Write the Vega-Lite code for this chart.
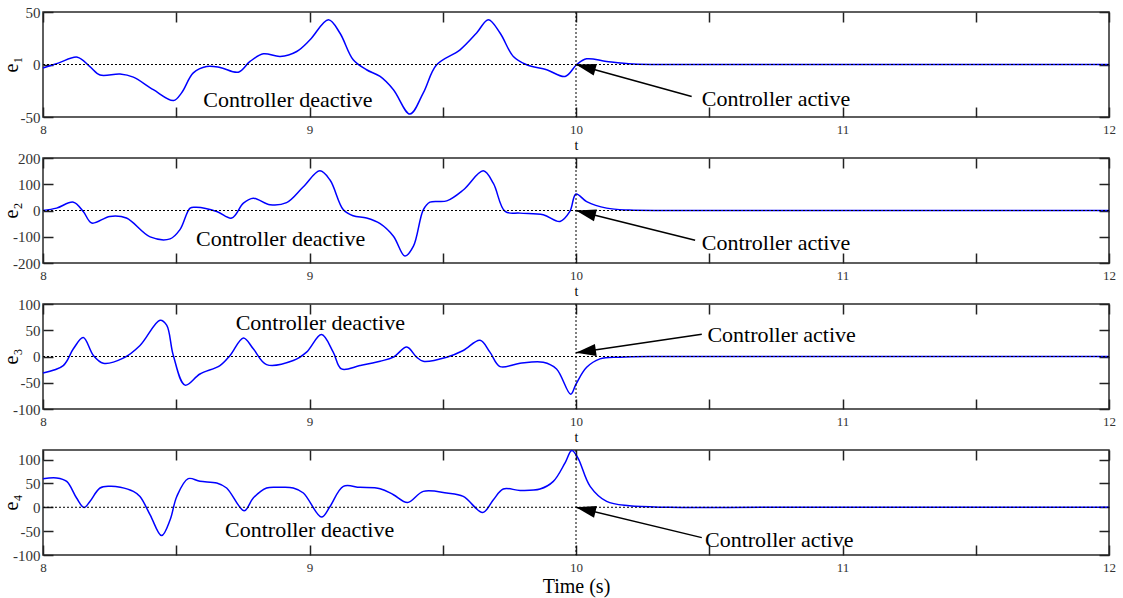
{
  "$schema": "https://vega.github.io/schema/vega-lite/v6.json",
  "padding": {"left": 0, "top": 4, "right": 5, "bottom": 5},
  "background": "white",
  "datasets": {
    "curves": [
      {"s":"e1","t":8.0,"v":-3.4},{"s":"e1","t":8.057,"v":1.3},{"s":"e1","t":8.129,"v":7},{"s":"e1","t":8.176,"v":-2},{"s":"e1","t":8.214,"v":-10},{"s":"e1","t":8.289,"v":-9},{"s":"e1","t":8.339,"v":-12},{"s":"e1","t":8.414,"v":-24},{"s":"e1","t":8.49,"v":-34.3},{"s":"e1","t":8.52,"v":-27},{"s":"e1","t":8.564,"v":-8},{"s":"e1","t":8.614,"v":-1.9},{"s":"e1","t":8.664,"v":-2.8},{"s":"e1","t":8.733,"v":-7.3},{"s":"e1","t":8.777,"v":2.9},{"s":"e1","t":8.827,"v":10.2},{"s":"e1","t":8.89,"v":7.6},{"s":"e1","t":8.952,"v":12.4},{"s":"e1","t":9.002,"v":23.5},{"s":"e1","t":9.071,"v":42.6},{"s":"e1","t":9.114,"v":30},{"s":"e1","t":9.164,"v":4.5},{"s":"e1","t":9.214,"v":-5},{"s":"e1","t":9.265,"v":-11.4},{"s":"e1","t":9.315,"v":-24},{"s":"e1","t":9.377,"v":-47.2},{"s":"e1","t":9.427,"v":-27},{"s":"e1","t":9.477,"v":-0.3},{"s":"e1","t":9.565,"v":14},{"s":"e1","t":9.627,"v":30},{"s":"e1","t":9.671,"v":42.6},{"s":"e1","t":9.715,"v":30},{"s":"e1","t":9.765,"v":7.6},{"s":"e1","t":9.815,"v":-0.3},{"s":"e1","t":9.89,"v":-5},{"s":"e1","t":9.959,"v":-11.4},{"s":"e1","t":10.003,"v":0},{"s":"e1","t":10.04,"v":5.4},{"s":"e1","t":10.115,"v":2.9},{"s":"e1","t":10.214,"v":0.4},{"s":"e1","t":10.4,"v":0},{"s":"e1","t":10.7,"v":0},{"s":"e1","t":11.2,"v":0},{"s":"e1","t":12,"v":0},
      {"s":"e2","t":8.0,"v":0},{"s":"e2","t":8.051,"v":9},{"s":"e2","t":8.114,"v":31.7},{"s":"e2","t":8.151,"v":-3.6},{"s":"e2","t":8.183,"v":-47.7},{"s":"e2","t":8.251,"v":-22.6},{"s":"e2","t":8.313,"v":-28.8},{"s":"e2","t":8.402,"v":-100.5},{"s":"e2","t":8.477,"v":-108},{"s":"e2","t":8.514,"v":-72.8},{"s":"e2","t":8.552,"v":9},{"s":"e2","t":8.575,"v":12},{"s":"e2","t":8.652,"v":-3.6},{"s":"e2","t":8.708,"v":-28.8},{"s":"e2","t":8.752,"v":28},{"s":"e2","t":8.789,"v":46.8},{"s":"e2","t":8.852,"v":22},{"s":"e2","t":8.914,"v":30},{"s":"e2","t":8.977,"v":90.6},{"s":"e2","t":9.039,"v":151},{"s":"e2","t":9.077,"v":116},{"s":"e2","t":9.127,"v":2.6},{"s":"e2","t":9.164,"v":-20},{"s":"e2","t":9.214,"v":-28.8},{"s":"e2","t":9.265,"v":-50},{"s":"e2","t":9.315,"v":-98},{"s":"e2","t":9.358,"v":-173.6},{"s":"e2","t":9.39,"v":-135.8},{"s":"e2","t":9.427,"v":2.6},{"s":"e2","t":9.452,"v":31.7},{"s":"e2","t":9.515,"v":36.6},{"s":"e2","t":9.577,"v":78},{"s":"e2","t":9.652,"v":151},{"s":"e2","t":9.69,"v":103},{"s":"e2","t":9.734,"v":-3.6},{"s":"e2","t":9.79,"v":-10},{"s":"e2","t":9.877,"v":-16},{"s":"e2","t":9.94,"v":-41.5},{"s":"e2","t":9.977,"v":-3.6},{"s":"e2","t":10.0,"v":63},{"s":"e2","t":10.04,"v":34},{"s":"e2","t":10.115,"v":9},{"s":"e2","t":10.2,"v":1.5},{"s":"e2","t":10.35,"v":0},{"s":"e2","t":10.7,"v":0},{"s":"e2","t":11.2,"v":0},{"s":"e2","t":12,"v":0},
      {"s":"e3","t":8.0,"v":-31.4},{"s":"e3","t":8.076,"v":-17.3},{"s":"e3","t":8.114,"v":14.7},{"s":"e3","t":8.151,"v":36},{"s":"e3","t":8.189,"v":2},{"s":"e3","t":8.226,"v":-12.8},{"s":"e3","t":8.301,"v":-3.2},{"s":"e3","t":8.364,"v":21},{"s":"e3","t":8.439,"v":69},{"s":"e3","t":8.464,"v":59.6},{"s":"e3","t":8.489,"v":2},{"s":"e3","t":8.533,"v":-54.5},{"s":"e3","t":8.589,"v":-33.3},{"s":"e3","t":8.664,"v":-17.3},{"s":"e3","t":8.702,"v":2},{"s":"e3","t":8.752,"v":35.3},{"s":"e3","t":8.789,"v":14.7},{"s":"e3","t":8.839,"v":-15.4},{"s":"e3","t":8.939,"v":-7.7},{"s":"e3","t":8.989,"v":8.3},{"s":"e3","t":9.045,"v":41.7},{"s":"e3","t":9.089,"v":8.3},{"s":"e3","t":9.12,"v":-23.7},{"s":"e3","t":9.189,"v":-17.3},{"s":"e3","t":9.265,"v":-9},{"s":"e3","t":9.315,"v":-1.3},{"s":"e3","t":9.365,"v":18},{"s":"e3","t":9.402,"v":-1.3},{"s":"e3","t":9.427,"v":-9},{"s":"e3","t":9.515,"v":-1.3},{"s":"e3","t":9.577,"v":11.5},{"s":"e3","t":9.64,"v":30.8},{"s":"e3","t":9.677,"v":8.3},{"s":"e3","t":9.715,"v":-19.2},{"s":"e3","t":9.79,"v":-12.8},{"s":"e3","t":9.877,"v":-10.9},{"s":"e3","t":9.927,"v":-23.7},{"s":"e3","t":9.98,"v":-71.8},{"s":"e3","t":10.0,"v":-52.5},{"s":"e3","t":10.04,"v":-20.6},{"s":"e3","t":10.09,"v":-4.5},{"s":"e3","t":10.165,"v":-1.3},{"s":"e3","t":10.3,"v":0},{"s":"e3","t":10.7,"v":0},{"s":"e3","t":11.2,"v":0},{"s":"e3","t":12,"v":0},
      {"s":"e4","t":8.0,"v":60},{"s":"e4","t":8.051,"v":61.5},{"s":"e4","t":8.089,"v":54.3},{"s":"e4","t":8.126,"v":19.4},{"s":"e4","t":8.154,"v":-0.4},{"s":"e4","t":8.176,"v":12.2},{"s":"e4","t":8.214,"v":40.4},{"s":"e4","t":8.25,"v":44},{"s":"e4","t":8.29,"v":42},{"s":"e4","t":8.339,"v":33.3},{"s":"e4","t":8.364,"v":22.7},{"s":"e4","t":8.402,"v":-15.8},{"s":"e4","t":8.445,"v":-59.4},{"s":"e4","t":8.477,"v":-26.3},{"s":"e4","t":8.502,"v":22.7},{"s":"e4","t":8.545,"v":60},{"s":"e4","t":8.589,"v":54.3},{"s":"e4","t":8.652,"v":50.9},{"s":"e4","t":8.689,"v":40.4},{"s":"e4","t":8.755,"v":-7.4},{"s":"e4","t":8.789,"v":19.4},{"s":"e4","t":8.839,"v":40.4},{"s":"e4","t":8.89,"v":41.7},{"s":"e4","t":8.939,"v":40.4},{"s":"e4","t":8.977,"v":29.9},{"s":"e4","t":9.045,"v":-20.6},{"s":"e4","t":9.077,"v":1.7},{"s":"e4","t":9.127,"v":43.8},{"s":"e4","t":9.189,"v":41.7},{"s":"e4","t":9.265,"v":39},{"s":"e4","t":9.315,"v":26.3},{"s":"e4","t":9.368,"v":10.1},{"s":"e4","t":9.427,"v":33.3},{"s":"e4","t":9.515,"v":29.9},{"s":"e4","t":9.577,"v":22.7},{"s":"e4","t":9.65,"v":-10.9},{"s":"e4","t":9.69,"v":15.8},{"s":"e4","t":9.727,"v":38.3},{"s":"e4","t":9.79,"v":35.4},{"s":"e4","t":9.865,"v":38.3},{"s":"e4","t":9.915,"v":54.3},{"s":"e4","t":9.959,"v":93},{"s":"e4","t":9.984,"v":119},{"s":"e4","t":10.007,"v":103.6},{"s":"e4","t":10.053,"v":43.8},{"s":"e4","t":10.115,"v":12.2},{"s":"e4","t":10.2,"v":3},{"s":"e4","t":10.35,"v":0},{"s":"e4","t":10.7,"v":0},{"s":"e4","t":11.2,"v":0},{"s":"e4","t":12,"v":0}
    ],
    "notes": [
      {"s":"e1","label":"Controller deactive","t":8.6015,"v":-40.6},
      {"s":"e1","label":"Controller active","t":10.4717,"v":-39.3},
      {"s":"e2","label":"Controller deactive","t":8.574,"v":-135.8},
      {"s":"e2","label":"Controller active","t":10.4717,"v":-151},
      {"s":"e3","label":"Controller deactive","t":8.723,"v":50},
      {"s":"e3","label":"Controller active","t":10.493,"v":27.5},
      {"s":"e4","label":"Controller deactive","t":8.683,"v":-61.5},
      {"s":"e4","label":"Controller active","t":10.484,"v":-82.5}
    ],
    "arrows": [
      {"s":"e1","t0":10.434,"v0":-30.5,"t1":10.0,"v1":0},
      {"s":"e2","t0":10.447,"v0":-113,"t1":10.0,"v1":0},
      {"s":"e3","t0":10.472,"v0":42.3,"t1":10.0,"v1":7},
      {"s":"e4","t0":10.472,"v0":-63.6,"t1":10.0,"v1":0}
    ]
  },
  "vconcat": [
    {
      "width": 1066, "height": 105,
      "layer": [
        {"data": {"name": "curves"}, "transform": [{"filter": "datum.s === 'e1'"}],
         "mark": {"type": "line", "color": "#0000ff", "strokeWidth": 1.5, "interpolate": "catmull-rom"},
         "encoding": {
           "x": {"field": "t", "type": "quantitative", "scale": {"domain": [8, 12], "nice": false},
                 "axis": {"orient": "bottom", "values": [8,8.5,9,9.5,10,10.5,11,11.5,12], "labelExpr": "datum.value % 1 === 0 ? format(datum.value, 'd') : ''", "labelFont": "Liberation Serif", "labelFontSize": 13, "labelPadding": 16, "title": "t", "titleFont": "Liberation Serif", "titleFontSize": 14, "titlePadding": 2}},
           "y": {"field": "v", "type": "quantitative", "scale": {"domain": [-50, 50], "nice": false, "zero": false},
                 "axis": {"orient": "left", "values": [-50,0,50], "labelExpr": "datum.value < 0 ? '-' + abs(datum.value) : '' + datum.value", "labelFont": "Liberation Serif", "labelFontSize": 15, "labelPadding": 13, "title": "e₁", "titleFont": "Liberation Serif", "titleFontSize": 20, "titleX": -22, "titleY": 52, "titleAngle": -90}}
         }},
        {"data": {"values": [{}]}, "mark": {"type": "rule", "color": "#000", "strokeDash": [2, 2], "strokeWidth": 1}, "encoding": {"y": {"datum": 0, "axis": null}}},
        {"data": {"values": [{}]}, "mark": {"type": "rule", "color": "#000", "strokeDash": [2, 2], "strokeWidth": 1}, "encoding": {"x": {"datum": 10, "axis": null}}},
        {"data": {"name": "arrows"}, "transform": [{"filter": "datum.s === 'e1'"}],
         "mark": {"type": "rule", "color": "#000", "strokeWidth": 1.5},
         "encoding": {
           "x": {"field": "t0", "type": "quantitative", "axis": {"orient": "top", "values": [8,8.5,9,9.5,10,10.5,11,11.5,12], "labels": false, "title": null}},
           "y": {"field": "v0", "type": "quantitative", "axis": {"orient": "right", "values": [-50,0,50], "labels": false, "title": null}},
           "x2": {"field": "t1"}, "y2": {"field": "v1"}
         }},
        {"data": {"name": "arrows"}, "transform": [{"filter": "datum.s === 'e1'"}],
         "mark": {"type": "point", "shape": "M0,0L0.6,2L-0.6,2Z", "filled": true, "color": "#000", "opacity": 1, "size": 400, "angle": 285.4, "strokeWidth": 0},
         "encoding": {"x": {"field": "t1", "type": "quantitative", "axis": null}, "y": {"field": "v1", "type": "quantitative", "axis": null}}},
        {"data": {"name": "notes"}, "transform": [{"filter": "datum.s === 'e1'"}],
         "mark": {"type": "text", "align": "left", "baseline": "alphabetic", "fontSize": 22, "font": "Liberation Serif", "color": "#000"},
         "encoding": {"x": {"field": "t", "type": "quantitative", "axis": null}, "y": {"field": "v", "type": "quantitative", "axis": null}, "text": {"field": "label"}}}
      ]
    },
    {
      "width": 1066, "height": 105,
      "layer": [
        {"data": {"name": "curves"}, "transform": [{"filter": "datum.s === 'e2'"}],
         "mark": {"type": "line", "color": "#0000ff", "strokeWidth": 1.5, "interpolate": "catmull-rom"},
         "encoding": {
           "x": {"field": "t", "type": "quantitative", "scale": {"domain": [8, 12], "nice": false},
                 "axis": {"orient": "bottom", "values": [8,8.5,9,9.5,10,10.5,11,11.5,12], "labelExpr": "datum.value % 1 === 0 ? format(datum.value, 'd') : ''", "labelFont": "Liberation Serif", "labelFontSize": 13, "labelPadding": 16, "title": "t", "titleFont": "Liberation Serif", "titleFontSize": 14, "titlePadding": 2}},
           "y": {"field": "v", "type": "quantitative", "scale": {"domain": [-200, 200], "nice": false, "zero": false},
                 "axis": {"orient": "left", "values": [-200,-100,0,100,200], "labelExpr": "datum.value < 0 ? '-' + abs(datum.value) : '' + datum.value", "labelFont": "Liberation Serif", "labelFontSize": 15, "labelPadding": 13, "title": "e₂", "titleFont": "Liberation Serif", "titleFontSize": 20, "titleX": -22, "titleY": 52, "titleAngle": -90}}
         }},
        {"data": {"values": [{}]}, "mark": {"type": "rule", "color": "#000", "strokeDash": [2, 2], "strokeWidth": 1}, "encoding": {"y": {"datum": 0, "axis": null}}},
        {"data": {"values": [{}]}, "mark": {"type": "rule", "color": "#000", "strokeDash": [2, 2], "strokeWidth": 1}, "encoding": {"x": {"datum": 10, "axis": null}}},
        {"data": {"name": "arrows"}, "transform": [{"filter": "datum.s === 'e2'"}],
         "mark": {"type": "rule", "color": "#000", "strokeWidth": 1.5},
         "encoding": {
           "x": {"field": "t0", "type": "quantitative", "axis": {"orient": "top", "values": [8,8.5,9,9.5,10,10.5,11,11.5,12], "labels": false, "title": null}},
           "y": {"field": "v0", "type": "quantitative", "axis": {"orient": "right", "values": [-200,-100,0,100,200], "labels": false, "title": null}},
           "x2": {"field": "t1"}, "y2": {"field": "v1"}
         }},
        {"data": {"name": "arrows"}, "transform": [{"filter": "datum.s === 'e2'"}],
         "mark": {"type": "point", "shape": "M0,0L0.6,2L-0.6,2Z", "filled": true, "color": "#000", "opacity": 1, "size": 400, "angle": 284.2, "strokeWidth": 0},
         "encoding": {"x": {"field": "t1", "type": "quantitative", "axis": null}, "y": {"field": "v1", "type": "quantitative", "axis": null}}},
        {"data": {"name": "notes"}, "transform": [{"filter": "datum.s === 'e2'"}],
         "mark": {"type": "text", "align": "left", "baseline": "alphabetic", "fontSize": 22, "font": "Liberation Serif", "color": "#000"},
         "encoding": {"x": {"field": "t", "type": "quantitative", "axis": null}, "y": {"field": "v", "type": "quantitative", "axis": null}, "text": {"field": "label"}}}
      ]
    },
    {
      "width": 1066, "height": 105,
      "layer": [
        {"data": {"name": "curves"}, "transform": [{"filter": "datum.s === 'e3'"}],
         "mark": {"type": "line", "color": "#0000ff", "strokeWidth": 1.5, "interpolate": "catmull-rom"},
         "encoding": {
           "x": {"field": "t", "type": "quantitative", "scale": {"domain": [8, 12], "nice": false},
                 "axis": {"orient": "bottom", "values": [8,8.5,9,9.5,10,10.5,11,11.5,12], "labelExpr": "datum.value % 1 === 0 ? format(datum.value, 'd') : ''", "labelFont": "Liberation Serif", "labelFontSize": 13, "labelPadding": 16, "title": "t", "titleFont": "Liberation Serif", "titleFontSize": 14, "titlePadding": 2}},
           "y": {"field": "v", "type": "quantitative", "scale": {"domain": [-100, 100], "nice": false, "zero": false},
                 "axis": {"orient": "left", "values": [-100,-50,0,50,100], "labelExpr": "datum.value < 0 ? '-' + abs(datum.value) : '' + datum.value", "labelFont": "Liberation Serif", "labelFontSize": 15, "labelPadding": 13, "title": "e₃", "titleFont": "Liberation Serif", "titleFontSize": 20, "titleX": -22, "titleY": 52, "titleAngle": -90}}
         }},
        {"data": {"values": [{}]}, "mark": {"type": "rule", "color": "#000", "strokeDash": [2, 2], "strokeWidth": 1}, "encoding": {"y": {"datum": 0, "axis": null}}},
        {"data": {"values": [{}]}, "mark": {"type": "rule", "color": "#000", "strokeDash": [2, 2], "strokeWidth": 1}, "encoding": {"x": {"datum": 10, "axis": null}}},
        {"data": {"name": "arrows"}, "transform": [{"filter": "datum.s === 'e3'"}],
         "mark": {"type": "rule", "color": "#000", "strokeWidth": 1.5},
         "encoding": {
           "x": {"field": "t0", "type": "quantitative", "axis": {"orient": "top", "values": [8,8.5,9,9.5,10,10.5,11,11.5,12], "labels": false, "title": null}},
           "y": {"field": "v0", "type": "quantitative", "axis": {"orient": "right", "values": [-100,-50,0,50,100], "labels": false, "title": null}},
           "x2": {"field": "t1"}, "y2": {"field": "v1"}
         }},
        {"data": {"name": "arrows"}, "transform": [{"filter": "datum.s === 'e3'"}],
         "mark": {"type": "point", "shape": "M0,0L0.6,2L-0.6,2Z", "filled": true, "color": "#000", "opacity": 1, "size": 400, "angle": 261.7, "strokeWidth": 0},
         "encoding": {"x": {"field": "t1", "type": "quantitative", "axis": null}, "y": {"field": "v1", "type": "quantitative", "axis": null}}},
        {"data": {"name": "notes"}, "transform": [{"filter": "datum.s === 'e3'"}],
         "mark": {"type": "text", "align": "left", "baseline": "alphabetic", "fontSize": 22, "font": "Liberation Serif", "color": "#000"},
         "encoding": {"x": {"field": "t", "type": "quantitative", "axis": null}, "y": {"field": "v", "type": "quantitative", "axis": null}, "text": {"field": "label"}}}
      ]
    },
    {
      "width": 1066, "height": 105,
      "layer": [
        {"data": {"name": "curves"}, "transform": [{"filter": "datum.s === 'e4'"}],
         "mark": {"type": "line", "color": "#0000ff", "strokeWidth": 1.5, "interpolate": "catmull-rom"},
         "encoding": {
           "x": {"field": "t", "type": "quantitative", "scale": {"domain": [8, 12], "nice": false},
                 "axis": {"orient": "bottom", "values": [8,8.5,9,9.5,10,10.5,11,11.5,12], "labelExpr": "datum.value % 1 === 0 ? format(datum.value, 'd') : ''", "labelFont": "Liberation Serif", "labelFontSize": 13, "labelPadding": 16, "title": "Time (s)", "titleFont": "Liberation Serif", "titleFontSize": 20, "titlePadding": 2}},
           "y": {"field": "v", "type": "quantitative", "scale": {"domain": [-100, 120], "nice": false, "zero": false},
                 "axis": {"orient": "left", "values": [-100,-50,0,50,100], "labelExpr": "datum.value < 0 ? '-' + abs(datum.value) : '' + datum.value", "labelFont": "Liberation Serif", "labelFontSize": 15, "labelPadding": 13, "title": "e₄", "titleFont": "Liberation Serif", "titleFontSize": 20, "titleX": -22, "titleY": 52, "titleAngle": -90}}
         }},
        {"data": {"values": [{}]}, "mark": {"type": "rule", "color": "#000", "strokeDash": [2, 2], "strokeWidth": 1}, "encoding": {"y": {"datum": 0, "axis": null}}},
        {"data": {"values": [{}]}, "mark": {"type": "rule", "color": "#000", "strokeDash": [2, 2], "strokeWidth": 1}, "encoding": {"x": {"datum": 10, "axis": null}}},
        {"data": {"name": "arrows"}, "transform": [{"filter": "datum.s === 'e4'"}],
         "mark": {"type": "rule", "color": "#000", "strokeWidth": 1.5},
         "encoding": {
           "x": {"field": "t0", "type": "quantitative", "axis": {"orient": "top", "values": [8,8.5,9,9.5,10,10.5,11,11.5,12], "labels": false, "title": null}},
           "y": {"field": "v0", "type": "quantitative", "axis": {"orient": "right", "values": [-100,-50,0,50,100], "labels": false, "title": null}},
           "x2": {"field": "t1"}, "y2": {"field": "v1"}
         }},
        {"data": {"name": "arrows"}, "transform": [{"filter": "datum.s === 'e4'"}],
         "mark": {"type": "point", "shape": "M0,0L0.6,2L-0.6,2Z", "filled": true, "color": "#000", "opacity": 1, "size": 400, "angle": 283.5, "strokeWidth": 0},
         "encoding": {"x": {"field": "t1", "type": "quantitative", "axis": null}, "y": {"field": "v1", "type": "quantitative", "axis": null}}},
        {"data": {"name": "notes"}, "transform": [{"filter": "datum.s === 'e4'"}],
         "mark": {"type": "text", "align": "left", "baseline": "alphabetic", "fontSize": 22, "font": "Liberation Serif", "color": "#000"},
         "encoding": {"x": {"field": "t", "type": "quantitative", "axis": null}, "y": {"field": "v", "type": "quantitative", "axis": null}, "text": {"field": "label"}}}
      ]
    }
  ],
  "spacing": 41,
  "bounds": "flush",
  "config": {
    "view": {"stroke": "#2a2a2a", "strokeWidth": 1.5},
    "font": "Liberation Serif",
    "axis": {"grid": false, "domain": false, "labelFont": "Liberation Serif", "titleFont": "Liberation Serif", "tickColor": "#222", "tickSize": -10, "tickWidth": 1.5, "labelColor": "#333", "titleColor": "#000", "titleFontWeight": "normal", "labelOverlap": false, "labelFlush": false}
  }
}
